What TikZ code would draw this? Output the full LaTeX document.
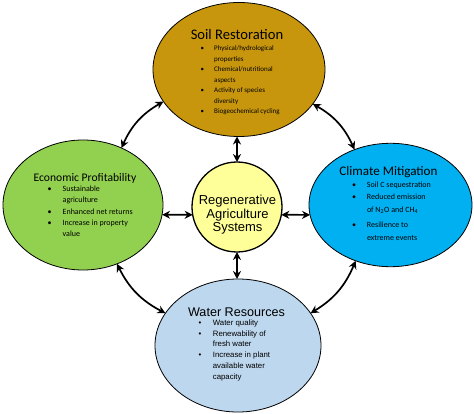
\documentclass[tikz,border=0pt]{standalone}
\usepackage{fontspec}
\setmainfont{Carlito}
\newfontfamily\arialf{Liberation Sans}
\usetikzlibrary{shapes.geometric,arrows.meta}
\definecolor{soilc}{RGB}{200,150,12}
\definecolor{econc}{RGB}{146,208,80}
\definecolor{climc}{RGB}{0,176,240}
\definecolor{watc}{RGB}{189,215,238}
\definecolor{cenc}{RGB}{255,255,153}
\newcommand\blist[2]{\begin{tabular}[t]{@{}p{#1}@{}l@{}}#2\end{tabular}}
\begin{document}
\begin{tikzpicture}[x=1pt,y=-1pt,
  blob/.style={ellipse, draw=black, line width=0.8pt, inner sep=0pt, outer sep=0pt},
  link/.style={{Stealth[length=8pt,width=8pt]}-{Stealth[length=8pt,width=8pt]}, line width=1.7pt, black},
  ttl/.style={anchor=base, inner sep=0pt, text=black},
  lst/.style={anchor=base west, inner sep=0pt, text=black}]
\useasboundingbox (0,0) rectangle (474,414);

\node[blob, fill=soilc, minimum width=172pt, minimum height=134pt] (soil) at (239,69.5) {};
\node[blob, fill=econc, minimum width=160pt, minimum height=130pt] (econ) at (83,205) {};
\node[blob, fill=climc, minimum width=163pt, minimum height=123.4pt] (clim) at (390.5,205) {};
\node[blob, fill=watc, minimum width=166pt, minimum height=133pt] (wat) at (238,345.5) {};
\node[circle, draw=black, line width=1.3pt, fill=cenc, minimum size=90pt, inner sep=0pt, outer sep=0pt] (cen) at (237,207) {};

% titles
\node[ttl, font=\fontsize{14.6}{16}\selectfont] (soilT) at (237,39.1) {Soil Restoration};
\node[ttl, font=\fontsize{11.6}{13}\selectfont] (econT) at (85,181.5) {Economic Profitability};
\node[ttl, font=\fontsize{13.1}{15}\selectfont] (climT) at (388.5,176) {Climate Mitigation};
\node[ttl, font=\arialf\fontsize{12.6}{14}\selectfont] (watT) at (236.5,316.2) {Water Resources};
\node[ttl, font=\arialf\fontsize{13}{13.5}\selectfont] (cenT) at (237.5,204.7)
  {\begin{tabular}[t]{@{}c@{}}Regenerative\\Agriculture\\Systems\end{tabular}};

% lists
\node[lst, font=\fontsize{7}{10.45}\selectfont] (soilL) at (200.5,51)
  {\blist{13.5pt}{\textbullet & Physical/hydrological\\ & properties\\
   \textbullet & Chemical/nutritional\\ & aspects\\
   \textbullet & Activity of species\\ & diversity\\
   \textbullet & Biogeochemical cycling}};
\node[lst, font=\fontsize{8}{11.3}\selectfont] (econL) at (47.5,191.6)
  {\blist{15pt}{\textbullet & Sustainable\\ & agriculture\\
   \textbullet & Enhanced net returns\\
   \textbullet & Increase in property\\ & value}};
\node[lst, font=\fontsize{8}{12.4}\selectfont] (climL) at (351.8,187.5)
  {\blist{15pt}{\textbullet & Soil C sequestration\\
   \textbullet & Reduced emission\\ & of N\textsubscript{2}O and CH\textsubscript{4}\\[3pt]
   \textbullet & Resilience to\\ & extreme events}};
\node[lst, font=\arialf\fontsize{7.8}{10.7}\selectfont] (watL) at (198.5,325.5)
  {\blist{14.2pt}{\textbullet & Water quality\\
   \textbullet & Renewability of\\ & fresh water\\
   \textbullet & Increase in plant\\ & available water\\ & capacity}};

% connectors
\draw[link] (econ.56) to[bend left=18] (soil.203);
\draw[link] (soil.335) to[bend left=18] (clim.123);
\draw[link] (clim.238) to[bend left=18] (wat.24.3);
\draw[link] (wat.156.6) to[bend left=18] (econ.300.8);
\draw[link] (econ.353) -- (cen.190);
\draw[link] (cen.350) -- (clim.187);
\draw[link] (cen.north |- soil.south) -- (cen.north);
\draw[link] (cen.south) -- (cen.south |- wat.north);
\end{tikzpicture}
\end{document}
